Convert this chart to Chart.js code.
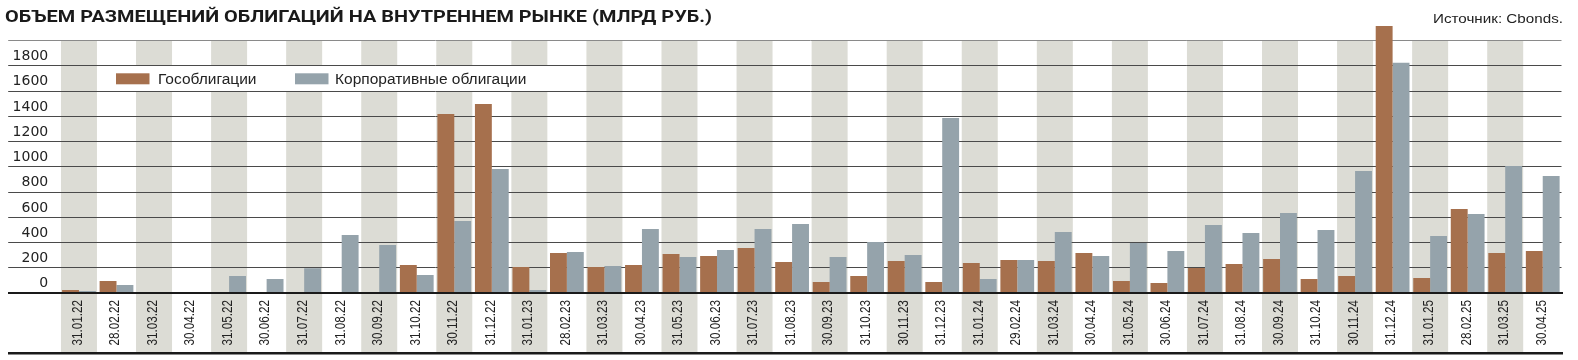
<!DOCTYPE html>
<html><head><meta charset="utf-8">
<script src="https://cdn.jsdelivr.net/npm/chart.js@4"></script>
<style>
html,body{margin:0;padding:0;background:#fff;width:1578px;height:360px;overflow:hidden}
#wrap{position:relative;width:1578px;height:360px}
canvas{position:absolute;left:0;top:0}
#title{position:absolute;left:5px;top:8px;font-family:Roboto,"Liberation Sans",sans-serif;font-weight:700;font-size:17px;line-height:17px;color:#1a1a1a;white-space:nowrap;transform-origin:0 0}
#src{position:absolute;top:12px;left:1433px;font-family:"Liberation Sans",sans-serif;font-size:13.5px;line-height:13.5px;color:#222;white-space:nowrap;transform-origin:0 0}
</style></head>
<body><div id="wrap">
<canvas id="c" width="1578" height="360"></canvas>
<div id="title">ОБЪЕМ РАЗМЕЩЕНИЙ ОБЛИГАЦИЙ НА ВНУТРЕННЕМ РЫНКЕ (МЛРД РУБ.)</div>
<div id="src">Источник: Cbonds.</div>
</div>
<script>
const categories = ['31.01.22','28.02.22','31.03.22','30.04.22','31.05.22','30.06.22','31.07.22','31.08.22','30.09.22','31.10.22','30.11.22','31.12.22',
'31.01.23','28.02.23','31.03.23','30.04.23','31.05.23','30.06.23','31.07.23','31.08.23','30.09.23','31.10.23','30.11.23','31.12.23',
'31.01.24','29.02.24','31.03.24','30.04.24','31.05.24','30.06.24','31.07.24','31.08.24','30.09.24','31.10.24','30.11.24','31.12.24',
'31.01.25','28.02.25','31.03.25','30.04.25'];
const govBonds = [26,97,4,2,3,2,3,2,10,224,1420,1499,
208,319,208,224,311,295,359,248,90,137,256,90,
240,264,256,319,97,82,200,232,272,113,137,2116,
121,667,319,335];
const corpBonds = [18,66,10,3,137,113,198,462,382,145,572,984,
26,327,216,509,287,343,509,549,287,406,303,1388,
113,264,485,295,398,335,541,477,636,501,968,1826,
454,628,1008,929];
const yTickValues = [0,200,400,600,800,1000,1200,1400,1600,1800,2000];
const yTickLabels = ['0','200','400','600','800','1000','1200','1400','1600','1800',''];
const seriesNames = ['Гособлигации','Корпоративные облигации'];

const GOV_COLOR = '#a6704d', CORP_COLOR = '#95a3ab', BAND_COLOR = '#dcdcd5';

// fit header texts
(function(){
  const t = document.getElementById('title');
  const w = t.getBoundingClientRect().width;
  t.style.transform = 'scaleX(' + (707 / w) + ')';
  const s = document.getElementById('src');
  const ws = s.getBoundingClientRect().width;
  s.style.transform = 'scaleX(' + (130 / ws) + ')';
})();

const decor = {
  id: 'decor',
  beforeDraw(chart){
    const {ctx, scales:{x, y}} = chart;
    const top = y.getPixelForValue(2000);
    ctx.save();
    ctx.fillStyle = BAND_COLOR;
    categories.forEach((c, i) => {
      if (i % 2 === 0) {
        const cx = x.getPixelForValue(i);
        ctx.fillRect(cx - 18, top, 36, 353 - top);
      }
    });
    const y1 = y.getPixelForValue(1800), y2 = y.getPixelForValue(1600);
    ctx.fillStyle = '#fff';
    ctx.fillRect(98, y1, 450, y2 - y1);
    ctx.restore();
  },
  afterDraw(chart){
    const {ctx, scales:{x, y}} = chart;
    ctx.save();
    const y0 = Math.round(y.getPixelForValue(0));
    ctx.fillStyle = '#1a1a1a';
    ctx.fillRect(8, y0 - 1, 1555, 2);
    ctx.fillRect(8, 352, 1555, 2.5);
    // category labels, rotated
    ctx.font = '14px "Liberation Sans", sans-serif';
    ctx.fillStyle = '#222';
    ctx.textBaseline = 'middle';
    ctx.textAlign = 'left';
    categories.forEach((c, i) => {
      const cx = x.getPixelForValue(i) - 1;
      const w = ctx.measureText(c).width;
      ctx.save();
      ctx.translate(cx, 345.5);
      ctx.rotate(-Math.PI / 2);
      ctx.scale(45.5 / w, 1);
      ctx.fillText(c, 0, 0);
      ctx.restore();
    });
    // legend
    const pos = [{sx:116, tx:158}, {sx:295, tx:335}];
    ctx.font = '15.5px "Liberation Sans", sans-serif';
    ctx.textBaseline = 'middle';
    ctx.textAlign = 'left';
    chart.data.datasets.forEach((d, i) => {
      ctx.fillStyle = d.backgroundColor;
      ctx.fillRect(pos[i].sx, 73.3, 33.5, 11);
      ctx.fillStyle = '#222';
      ctx.fillText(d.label, pos[i].tx, 79.5);
    });
    ctx.restore();
  }
};

new Chart(document.getElementById('c'), {
  type: 'bar',
  data: {
    labels: categories,
    datasets: [
      {label: seriesNames[0], data: govBonds, backgroundColor: GOV_COLOR, borderWidth: 0, categoryPercentage: 0.9, barPercentage: 1.0},
      {label: seriesNames[1], data: corpBonds, backgroundColor: CORP_COLOR, borderWidth: 0, categoryPercentage: 0.9, barPercentage: 1.0}
    ]
  },
  options: {
    responsive: false,
    devicePixelRatio: 1,
    animation: false,
    layout: {padding: {left: 8.2, right: 16.5, top: 21.8, bottom: 0}},
    plugins: {legend: {display: false}, title: {display: false}, tooltip: {enabled: false}},
    scales: {
      x: {
        offset: true,
        grid: {display: false, drawTicks: false},
        border: {display: false},
        ticks: {display: false, autoSkip: false},
        afterFit(s){ s.height = 66.75; }
      },
      y: {
        min: 0, max: 2150,
        afterBuildTicks(s){ s.ticks = yTickValues.map(v => ({value: v})); },
        grid: {
          color: c => (c.tick && c.tick.value === 2000) ? '#8a8a8a' : '#4a4a4a',
          lineWidth: 1,
          tickLength: 52,
          drawTicks: true
        },
        border: {display: false},
        ticks: {
          padding: -40, labelOffset: -9.5, color: '#222',
          font: {family: '"DejaVu Sans", sans-serif', size: 14},
          callback: (v) => yTickLabels[yTickValues.indexOf(v)]
        },
        afterFit(s){ s.width = 52; }
      }
    }
  },
  plugins: [decor]
});
</script>
</body></html>
